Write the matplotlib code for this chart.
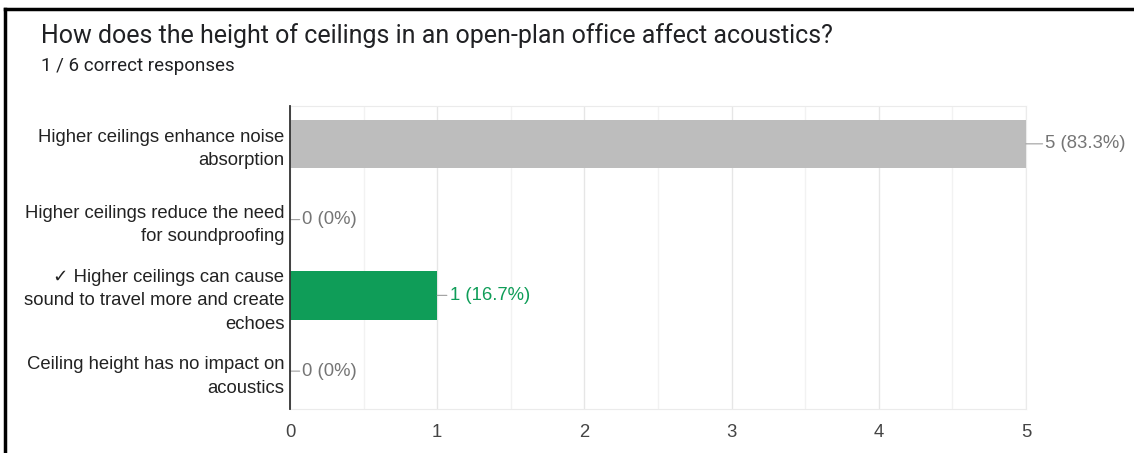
import matplotlib.pyplot as plt
from matplotlib.lines import Line2D
import numpy as np

categories = [
    'Higher ceilings enhance noise\nabsorption',
    'Higher ceilings reduce the need\nfor soundproofing',
    '\u2713 Higher ceilings can cause\nsound to travel more and create\nechoes',
    'Ceiling height has no impact on\nacoustics',
]
counts = [5, 0, 1, 0]
percents = ['83.3%', '0%', '16.7%', '0%']
correct = [False, False, True, False]

plt.rcParams['font.family'] = ['Liberation Sans', 'DejaVu Sans']

gray = '#bdbdbd'
green = '#0f9d58'
fs = 13.3

fig = plt.figure(figsize=(11.34, 4.53), dpi=100)
ax = fig.add_axes([0.2557, 0.0971, 0.6490, 0.669])

y = np.arange(len(categories))
colors = [green if c else gray for c in correct]
ax.barh(y, counts, height=0.64, color=colors, zorder=3)

ax.set_xlim(0, 5)
ax.set_ylim(len(categories) - 0.5, -0.5)
ax.set_xticks(range(6))
ax.set_xticks(np.arange(0.5, 5, 1), minor=True)
ax.tick_params(axis='x', which='both', length=0, labelsize=fs, labelcolor='#444444', pad=11)
ax.set_yticks(y)
ax.set_yticklabels(categories, fontsize=fs, color='#222222', linespacing=1.5)
for t in ax.get_yticklabels():
    t.set_multialignment('right')
ax.tick_params(axis='y', length=0, pad=4)
ax.grid(axis='x', which='major', color='#e6e6e6', lw=1, zorder=0)
ax.grid(axis='x', which='minor', color='#f2f2f2', lw=1, zorder=0)
for s in ['top', 'right', 'bottom']:
    ax.spines[s].set_color('#ebebeb')
ax.spines['left'].set_color('#333333')
ax.spines['left'].set_linewidth(1.3)
ax.spines['left'].set_zorder(4)

for i, (v, p, c) in enumerate(zip(counts, percents, correct)):
    col = green if c else '#757575'
    off = 14 if v == 5 else 9
    ax.annotate(f'{v} ({p})', xy=(v, i), xytext=(off, 0), textcoords='offset points',
                va='center', ha='left', fontsize=fs, color=col,
                arrowprops=dict(arrowstyle='-', color='#9e9e9e', lw=0.8,
                                shrinkA=0, shrinkB=0))

fig.text(0.036, 0.922, 'How does the height of ceilings in an open-plan office affect acoustics?',
         fontsize=18, color='#202124', va='center', family=['Roboto', 'DejaVu Sans'])
fig.text(0.036, 0.855, '1 / 6 correct responses', fontsize=13.5, color='#202124', va='center',
         family=['Roboto', 'DejaVu Sans'])

# frame edges at top and left
fig.add_artist(Line2D([0.0044, 1], [0.98, 0.98], color='black', lw=2.5, transform=fig.transFigure))
fig.add_artist(Line2D([0.0044, 0.0044], [0, 0.98], color='black', lw=2.5, transform=fig.transFigure))

fig.savefig('out.png', dpi=100)
